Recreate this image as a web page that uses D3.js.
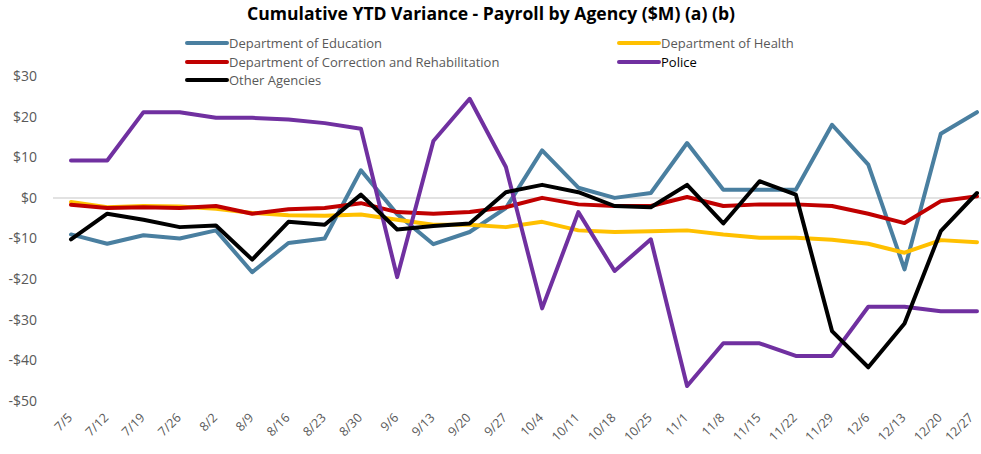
<!DOCTYPE html>
<html lang="en">
    <head>
        <meta charset="utf-8">
        <title>Payroll Variance</title>
        <script src="https://d3js.org/d3.v7.min.js"></script>
        <style type="text/css">
            body { margin: 0; background: #fff; }
            .title { font-family: "Open Sans", sans-serif; font-weight: bold; font-size: 17px; fill: #000; }
            .legend { font-family: "Open Sans", sans-serif; font-size: 13px; fill: #595959; }
            .tick text { font-family: "Open Sans", sans-serif; fill: #595959; }
        </style>
    </head>
    <body>
        <script type="text/javascript">
            // weeks (x categories)
            const weeks = ["7/5", "7/12", "7/19", "7/26", "8/2", "8/9", "8/16", "8/23", "8/30", "9/6",
                           "9/13", "9/20", "9/27", "10/4", "10/11", "10/18", "10/25", "11/1", "11/8",
                           "11/15", "11/22", "11/29", "12/6", "12/13", "12/20", "12/27"];

            // series values ($M)
            const education = [-9.0, -11.3, -9.2, -10.0, -8.0, -18.3, -11.1, -10.0, 6.8, -4.0,
                               -11.4, -8.4, -2.5, 11.7, 2.5, 0.0, 1.2, 13.5, 2.0,
                               2.0, 2.0, 18.0, 8.2, -17.6, 15.8, 21.1];
            const health = [-1.0, -2.3, -2.0, -2.1, -2.7, -3.7, -4.3, -4.4, -4.1, -5.4,
                            -6.6, -6.6, -7.2, -5.9, -8.0, -8.4, -8.2, -8.0, -9.0,
                            -9.8, -9.8, -10.3, -11.3, -13.5, -10.4, -10.9];
            const correction = [-1.7, -2.5, -2.3, -2.5, -2.0, -3.9, -2.8, -2.5, -1.3, -3.5,
                                -3.9, -3.5, -2.3, 0.0, -1.6, -2.0, -2.0, 0.2, -2.0,
                                -1.6, -1.6, -2.0, -3.9, -6.2, -0.8, 0.4];
            const police = [9.2, 9.2, 21.1, 21.1, 19.7, 19.7, 19.3, 18.4, 17.0, -19.5,
                            14.0, 24.4, 7.6, -27.2, -3.5, -18.0, -10.2, -46.3, -35.8,
                            -35.8, -38.9, -38.9, -26.8, -26.8, -27.9, -27.9];
            const other = [-10.2, -3.9, -5.4, -7.2, -6.8, -15.2, -5.9, -6.6, 0.8, -7.8,
                           -6.9, -6.3, 1.4, 3.2, 1.4, -2.0, -2.3, 3.2, -6.3,
                           4.1, 0.8, -32.8, -41.7, -30.9, -8.2, 1.2];

            const seriesNames = ["Department of Education", "Department of Health",
                                 "Department of Correction and Rehabilitation", "Police", "Other Agencies"];
            const yTicks = [30, 20, 10, 0, -10, -20, -30, -40, -50];

            const seriesValues = [education, health, correction, police, other];
            const colors = ["#4a7fa0", "#ffc000", "#c00000", "#7030a0", "#000000"];

            //constants
            const w = 981;
            const h = 454;

            const svg = d3.select("body")
                          .append("svg")
                          .attr("width", w)
                          .attr("height", h);

            //scales
            const x = d3.scalePoint().domain(weeks).range([71, 977]);
            const y = d3.scaleLinear().domain([-50, 30]).range([401, 76]);

            //title
            svg.append("text")
               .attr("class", "title")
               .attr("x", 491)
               .attr("y", 20)
               .attr("text-anchor", "middle")
               .attr("textLength", 488)
               .attr("lengthAdjust", "spacingAndGlyphs")
               .text("Cumulative YTD Variance - Payroll by Agency ($M) (a) (b)");

            //y axis (labels only)
            const yAxis = svg.append("g")
                             .attr("transform", "translate(37,0)")
                             .call(d3.axisLeft(y).tickValues(yTicks).tickSize(0).tickPadding(0)
                                    .tickFormat(d => (d < 0 ? "-$" : "$") + Math.abs(d)));
            yAxis.select(".domain").remove();
            yAxis.selectAll("text").style("font-size", "14px");

            //zero gridline
            svg.append("line")
               .attr("x1", 53)
               .attr("x2", w)
               .attr("y1", y(0))
               .attr("y2", y(0))
               .attr("stroke", "#d9d9d9")
               .attr("stroke-width", 1.5);

            //x axis (rotated labels)
            const xAxis = svg.append("g")
                             .attr("transform", "translate(0,410)")
                             .call(d3.axisBottom(x).tickSize(0).tickPadding(0));
            xAxis.select(".domain").remove();
            // last label would run past the right edge, nudge it in a little
            xAxis.selectAll("text")
                 .style("font-size", "12.5px")
                 .attr("text-anchor", "end")
                 .attr("dy", "0.4em")
                 .attr("transform", (d, i) => "translate(" + (i === weeks.length - 1 ? -7 : -2) + ",5) rotate(-45)");

            //lines
            const line = d3.line()
                           .x((d, i) => x(weeks[i]))
                           .y(d => y(d));

            svg.selectAll("path.series")
               .data(seriesValues)
               .enter()
               .append("path")
               .attr("class", "series")
               .attr("fill", "none")
               .attr("stroke", (d, i) => colors[i])
               .attr("stroke-width", 4)
               .attr("stroke-linejoin", "round")
               .attr("stroke-linecap", "round")
               .attr("d", line);

            //legend
            const legendPos = [[187, 43], [619, 43], [187, 62], [619, 62], [187, 80]];
            const legend = svg.selectAll("g.legend-item")
                              .data(seriesNames)
                              .enter()
                              .append("g")
                              .attr("class", "legend-item")
                              .attr("transform", (d, i) => "translate(" + legendPos[i][0] + "," + legendPos[i][1] + ")");

            legend.append("line")
                  .attr("x1", 0)
                  .attr("x2", 40)
                  .attr("stroke", (d, i) => colors[i])
                  .attr("stroke-width", 4)
                  .attr("stroke-linecap", "round");

            legend.append("text")
                  .attr("class", "legend")
                  .attr("x", 42)
                  .attr("dy", "0.35em")
                  .style("fill", d => d === "Police" ? "#000" : null)
                  .text(d => d);
        </script>
    </body>
</html>
